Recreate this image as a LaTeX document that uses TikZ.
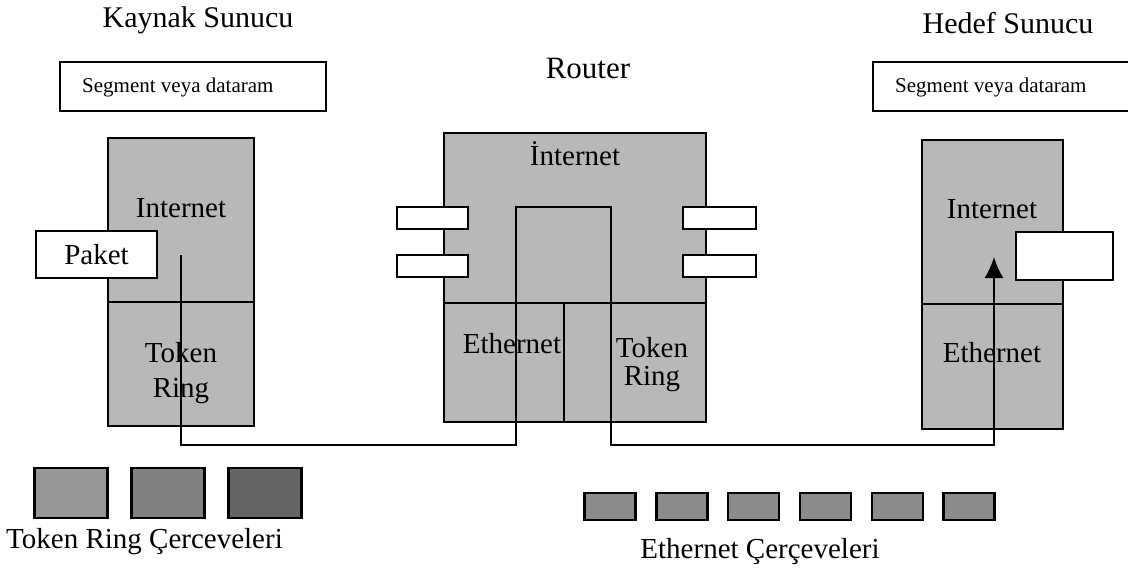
\documentclass[tikz,border=0pt]{standalone}
\usepackage{fontspec}
\setmainfont{Liberation Serif}
\usepackage{xcolor}
\usepackage{tikz}
\usetikzlibrary{arrows.meta,positioning}
\definecolor{LayerGray}{RGB}{184,184,184}
\definecolor{FrameA}{RGB}{150,150,150}
\definecolor{FrameB}{RGB}{128,128,128}
\definecolor{FrameC}{RGB}{100,100,100}
\definecolor{EthGray}{RGB}{140,140,140}

\begin{document}
\begin{tikzpicture}[x=1pt,y=-1pt,
    layer/.style={draw, line width=2.4pt, fill=LayerGray, inner sep=0pt, outer sep=0pt, anchor=north west},
    whitebox/.style={draw, line width=2pt, fill=white, inner sep=0pt, outer sep=0pt},
    framebox/.style={draw, line width=2.4pt, inner sep=0pt, outer sep=0pt},
    big/.style={font=\fontsize{29}{34}\selectfont, inner sep=0pt},
    small/.style={font=\fontsize{21}{25}\selectfont, inner sep=0pt}]
    \useasboundingbox (0,0) rectangle (1128,571);

    % titles
    \node[big, font=\fontsize{30}{34}\selectfont, anchor=base] (kaynak) at (198,27) {Kaynak Sunucu};
    \node[big, font=\fontsize{31}{34}\selectfont, anchor=base] (router) at (588,78) {Router};
    \node[big, font=\fontsize{30}{34}\selectfont, anchor=base] (hedef) at (1008,33) {Hedef Sunucu};

    % segment boxes
    \node[whitebox, minimum width=266pt, minimum height=49pt] (kSeg) at (193,86.5) {};
    \node[small, anchor=base west] (kSegTxt) at (82,92) {Segment veya dataram};
    \node[whitebox, minimum width=267pt, minimum height=49pt] (hSeg) at (1006.5,86.5) {};
    \node[small, anchor=base west] (hSegTxt) at (895,92) {Segment veya dataram};

    % source host
    \node[layer, minimum width=146pt, minimum height=164pt] (kInet) at (108,138) {};
    \node[layer, minimum width=146pt, minimum height=124pt] (kTok) at (108,302) {};
    \node[big, anchor=base] (kInetTxt) at (181,217) {Internet};
    \node[big, anchor=base] (kTokTxt) at (181,362) {Token};
    \node[big, anchor=base] (kRingTxt) at (181,397) {Ring};

    % router
    \node[layer, minimum width=262pt, minimum height=170pt] (rInet) at (444,133) {};
    \node[layer, minimum width=120pt, minimum height=119pt] (rEth) at (444,303) {};
    \node[layer, minimum width=142pt, minimum height=119pt] (rTok) at (564,303) {};
    \node[big, anchor=base] (rInetTxt) at (575,165) {İnternet};
    \node[big, anchor=base] (rEthTxt) at (512,353) {Ethernet};
    \node[big, anchor=base] (rTokTxt) at (652,357) {Token};
    \node[big, anchor=base] (rRingTxt) at (652,385) {Ring};
    \foreach \y/\n in {218/a,266/b} {
      \node[whitebox, minimum width=71pt, minimum height=22pt] (portL\n) at (432.5,\y) {};
      \node[whitebox, minimum width=73pt, minimum height=22pt] (portR\n) at (719.5,\y) {};
    }

    % destination host
    \node[layer, minimum width=141pt, minimum height=164pt] (hInet) at (922,140) {};
    \node[layer, minimum width=141pt, minimum height=125pt] (hEth) at (922,304) {};
    \node[big, anchor=base] (hInetTxt) at (992,218) {Internet};
    \node[big, anchor=base] (hEthTxt) at (992,362) {Ethernet};
    \node[whitebox, minimum width=97pt, minimum height=48pt] (hPak) at (1064.5,256) {};

    \node[whitebox, minimum width=121pt, minimum height=47pt, font=\fontsize{29}{34}\selectfont] (paket) at (96.5,254.5) {Paket};

    % packet route
    \coordinate (pStart) at (181,255);
    \coordinate (rIn) at (516,207);
    \coordinate (rOut) at (611,445);
    \coordinate (hEnd) at (994,257);
    \draw[line width=2pt, -{Latex[length=21pt,width=19pt]}] (pStart) -- (pStart |- rOut) -| (rIn) -| (rOut) -| (hEnd);

    % frames
    \foreach \i/\col in {0/FrameA,1/FrameB,2/FrameC} {
      \node[framebox, fill=\col, minimum width=73pt, minimum height=50pt] (tr\i) at (71+97*\i,493) {};
    }
    \foreach \i in {0,...,5} {
      \node[framebox, fill=EthGray, minimum width=51pt, minimum height=27pt] (eth\i) at (610+71.8*\i,506.5) {};
    }
    \node[big, anchor=base west] (trTxt) at (6,548) {Token Ring Çerceveleri};
    \node[big, anchor=base] (ethTxt) at (760,558) {Ethernet Çerçeveleri};
  \end{tikzpicture}
\end{document}
